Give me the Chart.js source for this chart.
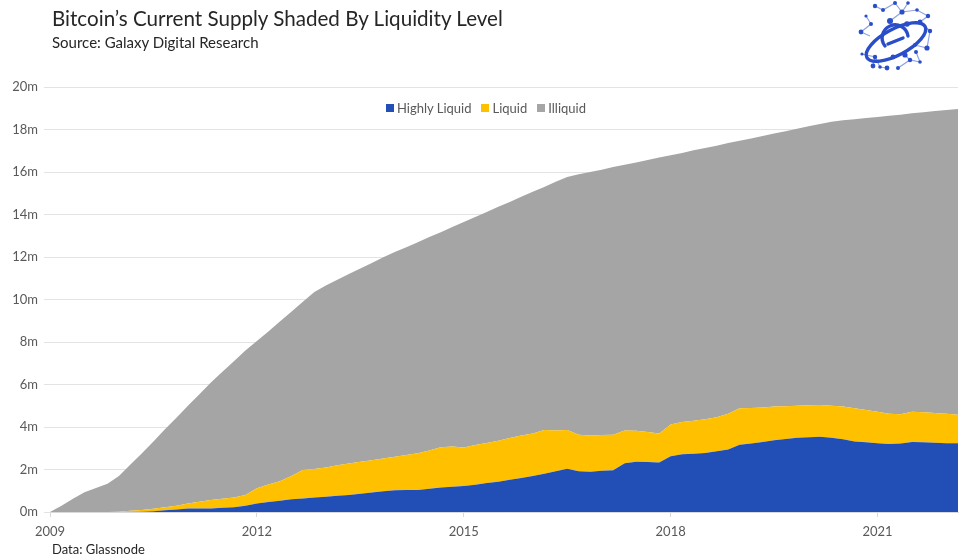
<!DOCTYPE html>
<html>
<head>
<meta charset="utf-8">
<script src="https://cdn.jsdelivr.net/npm/chart.js@4.4.1/dist/chart.umd.min.js"></script>
<style>
  body{margin:0;background:#fff;font-family:Lato, "Open Sans", sans-serif;}
  #wrap{position:relative;width:959px;height:554px;overflow:hidden;}
  #chart{position:absolute;left:0;top:0;}
  .title{position:absolute;left:52px;top:6px;font-size:20.6px;color:#262626;white-space:nowrap;}
  .sub{position:absolute;left:52px;top:33px;font-size:15px;color:#262626;white-space:nowrap;}
  .note{position:absolute;left:52px;top:541px;font-size:13px;color:#262626;white-space:nowrap;}
  .legend{position:absolute;left:386px;top:100px;display:flex;font-size:13px;color:#595959;white-space:nowrap;}
  .legend span.item{display:flex;align-items:center;margin-right:10px;}
  .legend i{display:inline-block;width:8px;height:8px;margin-right:3px;}
  .logo{position:absolute;left:840px;top:0;}
</style>
</head>
<body>
<div id="wrap">
  <canvas id="chart" width="959" height="554"></canvas>
  <div class="title">Bitcoin’s Current Supply Shaded By Liquidity Level</div>
  <div class="sub">Source: Galaxy Digital Research</div>
  <div class="note">Data: Glassnode</div>
  <div class="legend" id="legend"></div>
  <svg class="logo" width="119" height="80" viewBox="0 0 119 80">
    <g stroke="#8fa2e4" stroke-width="1.2" fill="none">
      <path d="M35 6 L43 10 L55 3 M55 3 L62 12 L68 3 M62 12 L77 10 L88 16 L80 22 L90 31 M26 16 L31 24 L21 32 M50 21 L62 12 M67 24 L80 22 M75 45 L87 48 L90 31 M22 54 L35 57 L33 66 M35 57 L40 67 L47 68 M58 68 L70 60 L80 62 L76 52 M70 60 L65 55 M21 32 L30 36"/>
    </g>
    <g stroke="#2a4ec9" stroke-width="3.4" fill="none" stroke-linecap="round">
      <ellipse cx="56" cy="42" rx="33" ry="13" transform="rotate(-28 56 42)"/>
      <path d="M45 46 A13 13 0 1 1 68 36"/>
      <path d="M48 44 L63 38"/>
    </g>
    <g fill="#2a4ec9">
      <circle cx="35" cy="6" r="2.2"/><circle cx="55" cy="3" r="2"/><circle cx="68" cy="3" r="1.8"/>
      <circle cx="43" cy="10" r="2"/><circle cx="62" cy="12" r="2.6"/><circle cx="77" cy="10" r="1.8"/>
      <circle cx="88" cy="16" r="2.2"/><circle cx="80" cy="22" r="2.4"/><circle cx="26" cy="16" r="1.6"/>
      <circle cx="31" cy="24" r="2"/><circle cx="21" cy="32" r="2.4"/><circle cx="50" cy="21" r="3"/>
      <circle cx="67" cy="24" r="2.8"/><circle cx="90" cy="31" r="2.2"/><circle cx="75" cy="45" r="2"/>
      <circle cx="87" cy="48" r="2.6"/><circle cx="22" cy="54" r="1.6"/><circle cx="35" cy="57" r="2.2"/>
      <circle cx="33" cy="66" r="2.4"/><circle cx="40" cy="67" r="1.8"/><circle cx="47" cy="68" r="2.4"/>
      <circle cx="58" cy="68" r="2"/><circle cx="70" cy="60" r="2.2"/><circle cx="80" cy="62" r="1.8"/>
      <circle cx="76" cy="52" r="2"/><circle cx="65" cy="55" r="2.6"/><circle cx="53" cy="57" r="2.4"/>
    </g>
  </svg>
</div>
<script>
// bi-monthly readings, millions of BTC
const dates = [
  "2009-01","2009-03","2009-05","2009-07","2009-09","2009-11",
  "2010-01","2010-03","2010-05","2010-07","2010-09","2010-11",
  "2011-01","2011-03","2011-05","2011-07","2011-09","2011-11",
  "2012-01","2012-03","2012-05","2012-07","2012-09","2012-11",
  "2013-01","2013-03","2013-05","2013-07","2013-09","2013-11",
  "2014-01","2014-03","2014-05","2014-07","2014-09","2014-11",
  "2015-01","2015-03","2015-05","2015-07","2015-09","2015-11",
  "2016-01","2016-03","2016-05","2016-07","2016-09","2016-11",
  "2017-01","2017-03","2017-05","2017-07","2017-09","2017-11",
  "2018-01","2018-03","2018-05","2018-07","2018-09","2018-11",
  "2019-01","2019-03","2019-05","2019-07","2019-09","2019-11",
  "2020-01","2020-03","2020-05","2020-07","2020-09","2020-11",
  "2021-01","2021-03","2021-05","2021-07","2021-09","2021-11",
  "2022-01","2022-03"
];

const highlyLiquid = [
  0,0,0,0,0,0,
  0,0,0.01,0.04,0.08,0.12,
  0.16,0.17,0.17,0.2,0.22,0.3,
  0.4,0.47,0.53,0.6,0.64,0.68,
  0.72,0.76,0.8,0.86,0.92,0.98,
  1.02,1.03,1.04,1.1,1.15,1.19,
  1.22,1.28,1.36,1.42,1.52,1.6,
  1.7,1.8,1.92,2.04,1.92,1.9,
  1.94,1.96,2.3,2.37,2.35,2.33,
  2.62,2.72,2.74,2.78,2.86,2.94,
  3.16,3.22,3.3,3.38,3.44,3.5,
  3.52,3.54,3.5,3.42,3.32,3.28,
  3.24,3.2,3.22,3.3,3.28,3.26,
  3.24,3.23
];

const liquid = [
  0,0,0,0,0,0,
  0.01,0.06,0.09,0.11,0.14,0.18,
  0.24,0.31,0.39,0.42,0.46,0.5,
  0.72,0.83,0.92,1.1,1.34,1.34,
  1.38,1.44,1.48,1.5,1.52,1.54,
  1.58,1.65,1.72,1.8,1.9,1.89,
  1.82,1.87,1.89,1.93,1.96,2.0,
  2.0,2.06,1.92,1.82,1.72,1.7,
  1.68,1.68,1.54,1.45,1.41,1.37,
  1.5,1.52,1.56,1.58,1.6,1.68,
  1.72,1.68,1.62,1.58,1.54,1.5,
  1.5,1.5,1.5,1.54,1.56,1.52,
  1.48,1.42,1.38,1.42,1.42,1.4,
  1.38,1.35
];

const illiquid = [
  0,0.29,0.62,0.93,1.13,1.33,
  1.68,2.17,2.67,3.17,3.67,4.13,
  4.6,5.06,5.53,5.98,6.42,6.8,
  6.93,7.2,7.51,7.72,7.91,8.33,
  8.56,8.73,8.92,9.1,9.28,9.47,
  9.63,9.78,9.94,10.04,10.12,10.33,
  10.61,10.73,10.87,11.01,11.11,11.23,
  11.37,11.44,11.7,11.91,12.25,12.4,
  12.49,12.59,12.5,12.63,12.81,12.98,
  12.67,12.66,12.72,12.77,12.78,12.74,
  12.59,12.68,12.78,12.85,12.94,13.04,
  13.13,13.22,13.37,13.47,13.6,13.74,
  13.87,14.03,14.1,14.04,14.11,14.21,
  14.3,14.39
];

const yearTicks = [2009, 2012, 2015, 2018, 2021];
const yTicks = [0,2,4,6,8,10,12,14,16,18,20];

const seriesNames = ["Highly Liquid", "Liquid", "Illiquid"];
const seriesColors = ["#214fb6", "#ffc000", "#a5a5a5"];

// "2012-05" -> 2012.333
function toYear(d){
  const [y, m] = d.split("-").map(Number);
  return y + (m - 1) / 12;
}

function points(values){
  return values.map((v, i) => ({x: toYear(dates[i]), y: v}));
}

const font = {family: "Lato", size: 13};

const datasets = [highlyLiquid, liquid, illiquid].map((vals, i) => ({
  label: seriesNames[i],
  data: points(vals),
  backgroundColor: seriesColors[i],
  borderColor: seriesColors[i],
  borderWidth: 0,
  pointRadius: 0,
  tension: 0,
  fill: i === 0 ? "origin" : "-1"
}));

// legend
document.getElementById("legend").innerHTML = seriesNames.map((n, i) =>
  `<span class="item"><i style="background:${seriesColors[i]}"></i>${n}</span>`
).join("");

new Chart(document.getElementById("chart"), {
  type: "line",
  data: {datasets},
  options: {
    responsive: false,
    animation: false,
    devicePixelRatio: 1,
    layout: {padding: {top: 87, right: 1, left: 0, bottom: 0}},
    plugins: {legend: {display: false}, tooltip: {enabled: false}},
    scales: {
      x: {
        type: "linear",
        min: 2009,
        max: toYear(dates[dates.length - 1]),
        z: 1,
        afterBuildTicks(s){ s.ticks = yearTicks.map(v => ({value: v})); },
        afterFit(s){ s.height = 42; },
        ticks: {
          callback: v => String(v),
          font, color: "#595959",
          padding: 7, maxRotation: 0, autoSkip: false
        },
        grid: {drawOnChartArea: false, drawTicks: true, tickLength: 5, color: "#d9d9d9"},
        border: {color: "#d9d9d9"}
      },
      y: {
        stacked: true,
        min: 0,
        max: 20,
        afterBuildTicks(s){ s.ticks = yTicks.map(v => ({value: v})); },
        afterFit(s){ s.width = 50; },
        ticks: {
          callback: v => v + "m",
          font, color: "#595959", padding: 6
        },
        grid: {color: "#e3e3e3", tickLength: 6},
        border: {display: false}
      }
    }
  }
});
</script>
</body>
</html>
